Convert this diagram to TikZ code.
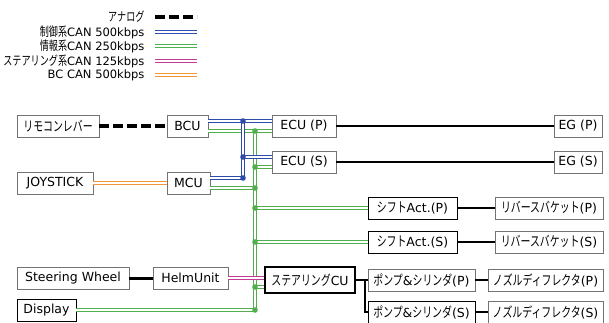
\documentclass[tikz,border=0pt]{standalone}
\usepackage{fontspec}
\setmainfont{DejaVu Sans}
\newfontfamily\jp[Scale=1.1,FakeStretch=0.72]{Noto Sans CJK JP}
\definecolor{ctrlblue}{RGB}{45,75,170}
\definecolor{infogreen}{RGB}{80,175,75}
\definecolor{steermag}{RGB}{195,60,150}
\definecolor{bcorange}{RGB}{240,150,55}

\begin{document}
\begin{tikzpicture}[x=1pt,y=-1pt,font=\fontsize{12.5}{14}\selectfont,
  box/.style={draw=black!55,line width=.8pt,fill=white,minimum height=22pt,inner sep=0},
  dbox/.style={box,draw=black},
  sbox/.style={box,draw=black,line width=2pt,minimum height=26pt},
  bus/.style={line width=1.3pt,double=white,double distance=1.8pt},
  ctrl/.style={bus,draw=ctrlblue},
  info/.style={bus,draw=infogreen},
  steer/.style={bus,draw=steermag},
  bc/.style={bus,draw=bcorange},
  analog/.style={line width=3.5pt,dash pattern=on 10pt off 4pt},
  wire/.style={line width=1.3pt}]
  \useasboundingbox (0,0) rectangle (609,322);
  \clip (0,0) rectangle (609,322);

  % legend
  \foreach \y/\sty/\txt in {
    17/analog/{\jp アナログ},32/ctrl/{\jp 制御系}CAN 500kbps,
    46/info/{\jp 情報系}CAN 250kbps,61/steer/{\jp ステアリング系}CAN 125kbps,
    75/bc/BC CAN 500kbps} {
    \node[anchor=east,font=\fontsize{11.5}{13}\selectfont] (key\y) at (148,\y) {\txt};
    \coordinate (keyA\y) at (155,\y);
    \coordinate (keyB\y) at (197,\y);
    \draw[\sty] (keyA\y) -- (keyB\y);
  }

  % units
  \foreach \name/\x/\y/\w/\sty/\txt in {
    remo/58/126/82/box/{\jp リモコンレバー},BCU/187.5/126/41/box/BCU,
    joy/55/183/76/box/JOYSTICK,MCU/188.5/183/43/box/MCU,
    ECUP/304/126/64/box/ECU (P),ECUS/304/162/64/box/ECU (S),
    EGP/578/126/48/box/EG (P),EGS/578/162/48/box/EG (S),
    shiftP/412.5/208/89/dbox/{\jp シフト}Act.(P),shiftS/412.5/242/89/dbox/{\jp シフト}Act.(S),
    revP/549/208/108/box/{\jp リバースバケット}(P),revS/549/242/108/box/{\jp リバースバケット}(S),
    wheel/73/278/112/box/Steering Wheel,helm/190.5/278/75/box/HelmUnit,
    SCU/310/280/90/sbox/{\jp ステアリング}CU,
    pumpP/421.5/280/107/box/{\jp ポンプ}\&{\jp シリンダ}(P),
    pumpS/421.5/312/107/dbox/{\jp ポンプ}\&{\jp シリンダ}(S),
    nozP/545.5/280/115/box/{\jp ノズルディフレクタ}(P),
    nozS/545.5/312/115/box/{\jp ノズルディフレクタ}(S),
    disp/46.5/310/59/dbox/Display}
    \node[\sty,minimum width=\w pt] (\name) at (\x,\y) {\txt};

  % bus junctions
  \foreach \name/\x/\y in {
    cb1/243/121,cb2/243/157,cb3/243/178,
    ci1/255/131,ci2/255/167,ci3/255/188,ci4/255/208,ci5/255/242,ci6/255/287,ci7/255/310,
    jp/365/280}
    \coordinate (\name) at (\x,\y);

  \draw[analog] (remo) -- (BCU);
  \draw[bc] (joy) -- (MCU);
  \draw[wire,line width=3pt] (wheel) -- (helm);
  \foreach \a/\b in {ECUP/EGP,ECUS/EGS,SCU/pumpP,pumpP/nozP,pumpS/nozS}
    \draw[wire] (\a) -- (\b);
  \foreach \a/\b in {shiftP/revP,shiftS/revS}
    \draw[wire,line width=2pt] (\a) -- (\b);
  \draw[wire] (jp) |- (pumpS);

  % information CAN
  \draw[info] ([yshift=-5pt]BCU.east) -- ([yshift=-5pt]ECUP.west);
  \draw[info] (disp) -| (ci1);
  \draw[info] ([yshift=-5pt]MCU.east) -- (ci3);
  \draw[info] (ci2) -- ([yshift=-5pt]ECUS.west);
  \draw[info] (ci4) -- (shiftP);
  \draw[info] (ci5) -- (shiftS);
  \draw[info] (ci6) -- (ci6 -| SCU.west);

  % control CAN
  \draw[ctrl] ([yshift=5pt]BCU.east) -- ([yshift=5pt]ECUP.west);
  \draw[ctrl] ([yshift=5pt]MCU.east) -| (cb1);
  \draw[ctrl] (cb2) -- ([yshift=5pt]ECUS.west);

  \draw[steer] (helm) -- (helm -| SCU.west);

  \foreach \c in {cb1,cb2,cb3}
    \fill[ctrlblue] (\c) circle (2.8pt);
  \foreach \c in {ci1,ci2,ci3,ci4,ci5,ci6,ci7}
    \fill[infogreen] (\c) circle (2.8pt);
\end{tikzpicture}
\end{document}
